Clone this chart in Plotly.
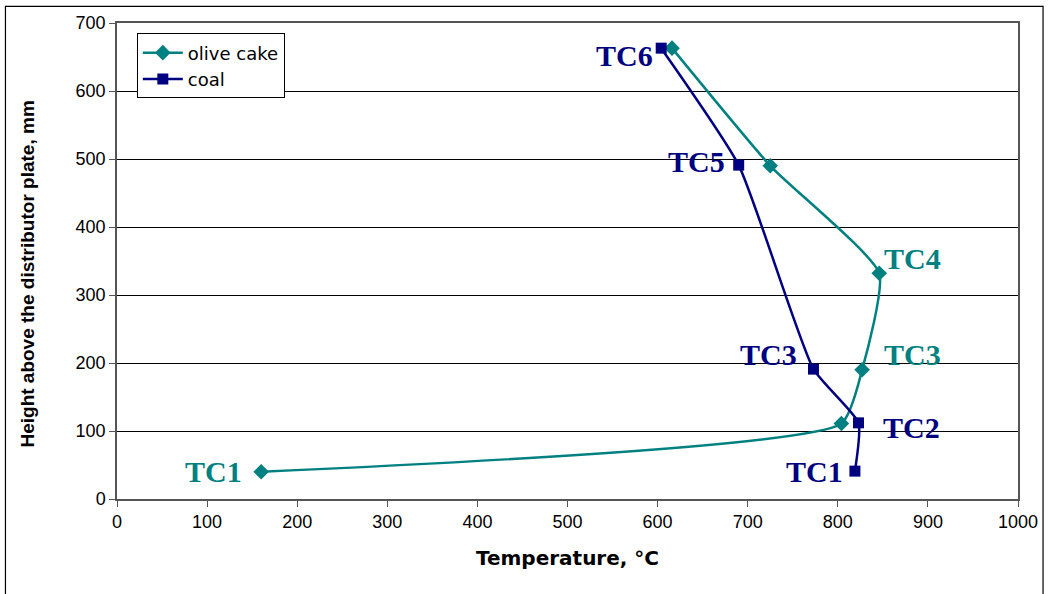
import plotly.graph_objects as go

# Thermocouple readings along the bed height
olive_temp = [160, 804, 827, 846, 725, 616]
olive_height = [40, 111, 190, 332, 490, 663]
coal_temp = [819, 823, 773, 690, 604]
coal_height = [41, 112, 191, 491, 663]

olive_labels = ["TC1", "", "TC3", "TC4", "", ""]
coal_labels = ["TC1", "TC2", "TC3", "TC5", "TC6"]

x_ticks = list(range(0, 1001, 100))
y_ticks = list(range(0, 701, 100))

TEAL = "#008080"
NAVY = "#000080"

fig = go.Figure()
fig.add_trace(go.Scatter(
    x=olive_temp, y=olive_height, name="olive cake",
    mode="lines+markers",
    line=dict(color=TEAL, width=2.5, shape="spline", smoothing=0.5),
    marker=dict(symbol="diamond", size=12, color=TEAL),
))
fig.add_trace(go.Scatter(
    x=coal_temp, y=coal_height, name="coal",
    mode="lines+markers",
    line=dict(color=NAVY, width=2.5, shape="spline", smoothing=0.5),
    marker=dict(symbol="square", size=11, color=NAVY),
))

label_font = dict(family="Liberation Serif", size=30)

# label offsets (pixels) relative to each thermocouple point
olive_offsets = {"TC1": (-48, 0), "TC3": (50, 15), "TC4": (33, 15)}
coal_offsets = {"TC1": (-40, 0), "TC2": (53, -5), "TC3": (-45, 15),
                "TC5": (-42, 4), "TC6": (-37, -7)}

for t, h, lab in zip(olive_temp, olive_height, olive_labels):
    if lab:
        dx, dy = olive_offsets[lab]
        fig.add_annotation(x=t, y=h, text="<b>%s</b>" % lab, showarrow=False,
                           xshift=dx, yshift=dy,
                           font=dict(label_font, color=TEAL))
for t, h, lab in zip(coal_temp, coal_height, coal_labels):
    dx, dy = coal_offsets[lab]
    fig.add_annotation(x=t, y=h, text="<b>%s</b>" % lab, showarrow=False,
                       xshift=dx, yshift=dy,
                       font=dict(label_font, color=NAVY))

# y-axis title placed as a rotated annotation
fig.add_annotation(xref="paper", yref="paper", x=-0.113, y=0.473,
                   text="<b>Height above the distributor plate, mm</b>",
                   textangle=-90, showarrow=False,
                   font=dict(family="Liberation Sans", size=19, color="black"))

# outer frame around the whole chart
fig.add_shape(type="rect", xref="paper", yref="paper",
              x0=-0.1238, x1=1.0278, y0=-0.25, y1=1.035,
              line=dict(color="#000000", width=1.2), layer="below")

fig.update_layout(
    width=1049, height=594,
    margin=dict(l=117, r=31, t=23, b=95),
    paper_bgcolor="white", plot_bgcolor="white",
    font=dict(family="Liberation Sans", size=18, color="black"),
    showlegend=True,
    legend=dict(x=0.022, y=0.978, xanchor="left", yanchor="top",
                bgcolor="white", bordercolor="black", borderwidth=1,
                font=dict(family="DejaVu Sans", size=18),
                tracegroupgap=0, itemwidth=40),
    xaxis=dict(
        range=[0, 1000], tickvals=x_ticks, ticktext=[str(v) for v in x_ticks],
        showgrid=False, zeroline=False,
        showline=True, linecolor="#555555", linewidth=1.5, mirror=True,
        ticks="outside", ticklen=6, tickcolor="#555555",
        tickfont=dict(size=18),
        title=dict(text="<b>Temperature, °C</b>",
                   font=dict(family="DejaVu Sans", size=20), standoff=20),
    ),
    yaxis=dict(
        range=[0, 700], tickvals=y_ticks, ticktext=[str(v) for v in y_ticks],
        showgrid=True, gridcolor="#000000", gridwidth=1, zeroline=False,
        showline=True, linecolor="#555555", linewidth=1.5, mirror=True,
        ticks="outside", ticklen=6, tickcolor="#555555",
        tickfont=dict(size=18),
    ),
)

fig.write_html("out.html")
